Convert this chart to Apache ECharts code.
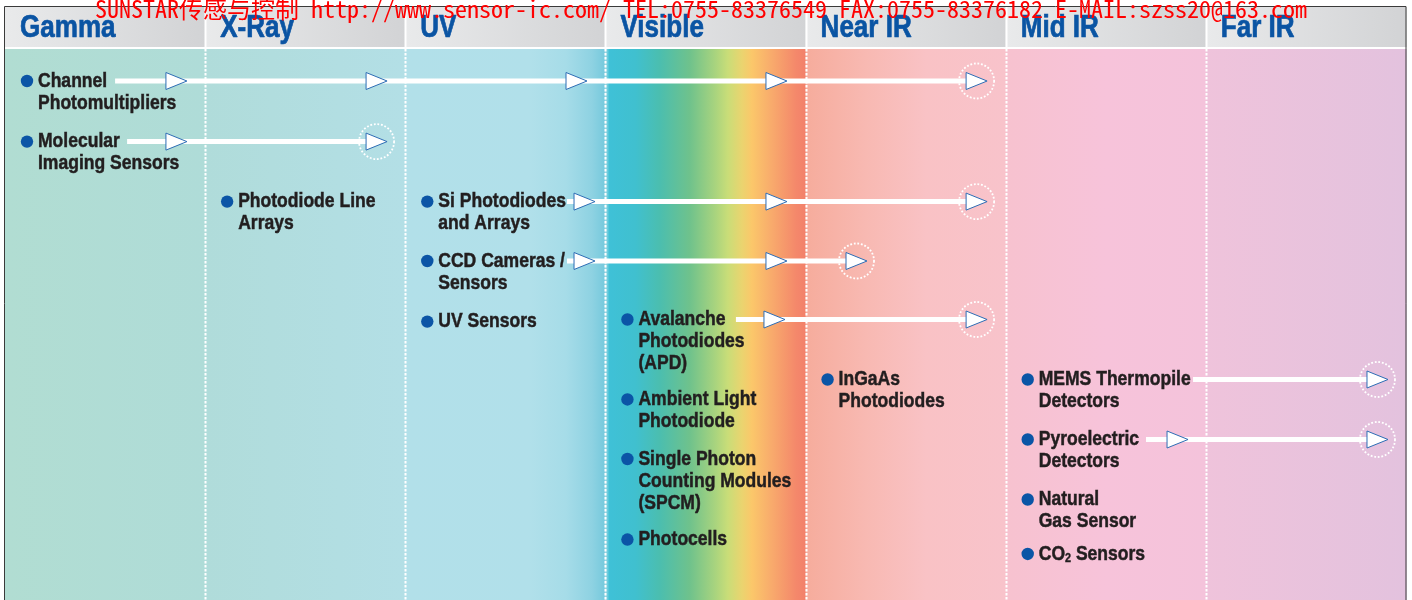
<!DOCTYPE html>
<html><head><meta charset="utf-8">
<script src="https://cdn.jsdelivr.net/npm/echarts@6/dist/echarts.min.js"></script>
<style>html,body{margin:0;padding:0;background:#fff;overflow:hidden}#c{width:1412px;height:600px}</style>
</head><body><div id="c"></div>
<script>
// ---- data ----
const bands = ['Gamma', 'X-Ray', 'UV', 'Visible', 'Near IR', 'Mid IR', 'Far IR'];
const sensorNames = [
  'Channel\nPhotomultipliers',
  'Molecular\nImaging Sensors',
  'Photodiode Line\nArrays',
  'Si Photodiodes\nand Arrays',
  'CCD Cameras /\nSensors',
  'UV Sensors',
  'Avalanche\nPhotodiodes\n(APD)',
  'Ambient Light\nPhotodiode',
  'Single Photon\nCounting Modules\n(SPCM)',
  'Photocells',
  'InGaAs\nPhotodiodes',
  'MEMS Thermopile\nDetectors',
  'Pyroelectric\nDetectors',
  'Natural\nGas Sensor',
  'CO2 Sensors'
];
const sensorBand = [0, 0, 1, 2, 2, 2, 3, 3, 3, 3, 4, 5, 5, 5, 5];
const sensorRow = [0, 1.01, 2.01, 2.01, 3.0, 4.01, 3.975, 5.308, 6.3, 7.642, 4.975, 4.975, 5.975, 6.975, 7.883];
const arrowFrom = [0.55, 0.61, null, 2.808, 2.808, null, 3.652, null, null, null, null, 5.936, 5.701, null, null];
const arrowHeads = [
  [0.909, 1.909, 2.908, 3.907, 4.907],
  [0.909, 1.909],
  [],
  [2.948, 3.907, 4.907],
  [2.948, 3.907, 4.307],
  [],
  [3.897, 4.907],
  [], [], [], [],
  [6.910],
  [5.911, 6.910],
  [], []
];
const watermarkText = ['SUNSTAR', '传感与控制', ' http://www.sensor-ic.com/ TEL:0755-83376549 FAX:0755-83376182 E-MAIL:szss20@163.com'];

// ---- layout / style ----
const Y_TOP = -74 / 60, Y_HEAD = -34 / 60, Y_BODY = -32 / 60, Y_BOTTOM = 519 / 60;
const bandColors = [
  [[0, '#b1ddd2'], [1, '#afdcd8']],
  [[0, '#b0dcda'], [1, '#b3dfe6']],
  [[0, '#b2e0e9'], [0.62, '#b1e0ea'], [0.8, '#a6dce8'], [0.93, '#8ed2e2'], [0.99, '#78cadd'], [1, '#9fd8e5']],
  [[0, '#a0d8e4'], [0.02, '#3fc1d7'], [0.15, '#40c0cf'], [0.27, '#4bbeaf'], [0.42, '#6fc28c'], [0.55, '#aad47e'], [0.61, '#c9dd78'], [0.68, '#ead46f'], [0.73, '#fbc76a'], [0.83, '#f8aa6c'], [0.95, '#f4886b'], [1, '#f2806a']],
  [[0, '#f6ac9c'], [0.3, '#f8b9b2'], [0.6, '#f9c2c5'], [1, '#f8c3cb']],
  [[0, '#f7c2cf'], [0.5, '#f7c3da'], [1, '#f4c3db']],
  [[0, '#efc3db'], [1, '#e3c2de']]
];
const BODY_FONT = '"Liberation Sans", Arial, Helvetica, sans-serif';
const BODY_SIZE = 21, BODY_SCALE = 0.835;
const HEAD_SIZE = 31, HEAD_SCALE = 0.84;
const TEXT_COLOR = '#221e1f', HEAD_COLOR = '#0a54a3';

function hasFont(name) {
  const ctx = document.createElement('canvas').getContext('2d');
  const s = 'mmmmmmmmmmlliWW0123 ABCxyz';
  let diff = false;
  ['monospace', 'serif'].forEach(function (g) {
    ctx.font = '72px ' + g; const a = ctx.measureText(s).width;
    ctx.font = '72px "' + name + '", ' + g; const b = ctx.measureText(s).width;
    if (Math.abs(a - b) > 0.5) diff = true;
  });
  return diff;
}
const monoCJK = hasFont('Noto Sans Mono CJK SC');

const chart = echarts.init(document.getElementById('c'), null, { renderer: 'canvas' });

function renderBand(params, api) {
  const i = api.value(0);
  const tl = api.coord([i, Y_TOP]);
  const hb = api.coord([i + 1, Y_HEAD]);
  const bt = api.coord([i + 1, Y_BODY]);
  const br = api.coord([i + 1, Y_BOTTOM]);
  const w = br[0] - tl[0] + 0.6;
  const stops = bandColors[i].map(function (s) { return { offset: s[0], color: s[1] }; });
  return {
    type: 'group',
    children: [
      { type: 'rect', shape: { x: tl[0], y: bt[1], width: w, height: br[1] - bt[1] },
        style: { fill: new echarts.graphic.LinearGradient(0, 0, 1, 0, stops) } },
      { type: 'rect', shape: { x: tl[0], y: tl[1], width: w, height: hb[1] - tl[1] },
        style: { fill: new echarts.graphic.LinearGradient(0, 0, 1, 0, [{ offset: 0, color: '#e9eaeb' }, { offset: 1, color: '#d2d3d5' }]) } },
      { type: 'rect', shape: { x: tl[0], y: hb[1], width: w, height: bt[1] - hb[1] }, style: { fill: '#ffffff' } },
      { type: 'text', x: tl[0] + 15, y: (tl[1] + hb[1]) / 2 + 1.5, scaleX: HEAD_SCALE,
        style: { text: bands[i], x: 0, y: 0, verticalAlign: 'middle', align: 'left',
          fontFamily: BODY_FONT, fontWeight: 'bold', fontSize: HEAD_SIZE, fill: HEAD_COLOR,
          stroke: HEAD_COLOR, lineWidth: 0.7 } }
    ]
  };
}

function renderSep(params, api) {
  const v = api.value(0);
  const t = api.coord([v, Y_TOP]);
  const h = api.coord([v, Y_HEAD]);
  const b = api.coord([v, Y_BOTTOM]);
  const x = Math.round(t[0]) + 0.5;
  return {
    type: 'group',
    children: [
      { type: 'line', shape: { x1: x, y1: t[1], x2: x, y2: h[1] + 1 }, style: { stroke: '#ffffff', lineWidth: 2 } },
      { type: 'line', shape: { x1: x, y1: h[1] + 2, x2: x, y2: b[1] }, style: { stroke: '#ffffff', lineWidth: 2, lineDash: [2.5, 1.5] } }
    ]
  };
}

function renderSensor(params, api) {
  const k = api.value(2);
  const p = api.coord([api.value(0), api.value(1)]);
  const children = [];
  if (arrowFrom[k] !== null) {
    const heads = arrowHeads[k];
    const a = api.coord([arrowFrom[k], api.value(1)]);
    const e = api.coord([heads[heads.length - 1], api.value(1)]);
    children.push({ type: 'rect', shape: { x: a[0], y: a[1] - 2.5, width: e[0] - 12 - a[0], height: 5 }, style: { fill: '#ffffff' } });
    heads.forEach(function (hx, j) {
      const tp = api.coord([hx, api.value(1)]);
      if (j === heads.length - 1) {
        children.push({ type: 'circle', shape: { cx: tp[0] - 10.5, cy: tp[1], r: 17.5 },
          style: { fill: 'none', stroke: '#ffffff', lineWidth: 1.8, lineDash: [1.8, 1.8] } });
      }
      children.push({ type: 'polygon', shape: { points: [[tp[0], tp[1]], [tp[0] - 21, tp[1] - 8.5], [tp[0] - 21, tp[1] + 8.5]] },
        style: { fill: '#ffffff', stroke: '#2d6db5', lineWidth: 1 } });
    });
  }
  children.push({ type: 'circle', shape: { cx: p[0] + 22, cy: p[1], r: 6.2 }, style: { fill: '#0b55a6' } });
  const name = sensorNames[k];
  const txtStyle = { x: 0, y: 0, align: 'left', verticalAlign: 'top', fontFamily: BODY_FONT, fontWeight: 'bold',
    fontSize: BODY_SIZE, lineHeight: 22, fill: TEXT_COLOR, stroke: TEXT_COLOR, lineWidth: 0.5 };
  if (name.indexOf('CO2') === 0) {
    txtStyle.text = '{n|CO}{s|2}{n|' + name.slice(3) + '}';
    txtStyle.rich = {
      n: { fontFamily: BODY_FONT, fontWeight: 'bold', fontSize: BODY_SIZE, lineHeight: 22, fill: TEXT_COLOR, stroke: TEXT_COLOR, lineWidth: 0.5 },
      s: { fontFamily: BODY_FONT, fontWeight: 'bold', fontSize: 13, lineHeight: 14, verticalAlign: 'bottom', fill: TEXT_COLOR, stroke: TEXT_COLOR, lineWidth: 0.4 }
    };
  } else {
    txtStyle.text = name;
  }
  children.push({ type: 'text', x: p[0] + 33, y: p[1] - 11, scaleX: BODY_SCALE, style: txtStyle });
  return { type: 'group', children: children };
}

const sensorData = sensorNames.map(function (n, k) { return [sensorBand[k], sensorRow[k], k]; });

const wmFont = monoCJK ? 'Noto Sans Mono CJK SC' : 'Liberation Mono';
const wmSize = monoCJK ? 24 : 20;
const option = {
  animation: false,
  grid: { left: 5, right: 6, top: 7, bottom: 0, containLabel: false },
  xAxis: { type: 'value', min: 0, max: bands.length, show: false },
  yAxis: { type: 'value', inverse: true, min: Y_TOP, max: Y_BOTTOM, show: false },
  series: [
    { type: 'custom', renderItem: renderBand, data: bands.map(function (b, i) { return [i]; }), z: 1, clip: false, silent: true },
    { type: 'custom', renderItem: renderSep, data: bands.slice(1).map(function (b, i) { return [i + 1]; }), z: 2, silent: true },
    { type: 'custom', renderItem: renderSensor, data: sensorData, z: 3, clip: false, silent: true }
  ],
  graphic: [
    { type: 'rect', shape: { x: 4.5, y: 6.5, width: 1401.5, height: 600 }, style: { fill: 'none', stroke: '#3a3a3a', lineWidth: 1 }, z: 50, silent: true },
    { type: 'text', left: 95, top: monoCJK ? -3 : -1, z: 60, silent: true,
      style: { text: '{a|' + watermarkText[0] + '}{c|' + watermarkText[1] + '}{a|' + watermarkText[2] + '}',
        rich: {
          a: { fontFamily: wmFont, fontSize: wmSize, fill: '#ff0000' },
          c: { fontFamily: monoCJK ? wmFont : 'Noto Sans CJK SC', fontSize: monoCJK ? wmSize : 23, fill: '#ff0000' }
        } } }
  ]
};
chart.setOption(option);
</script>
</body></html>
